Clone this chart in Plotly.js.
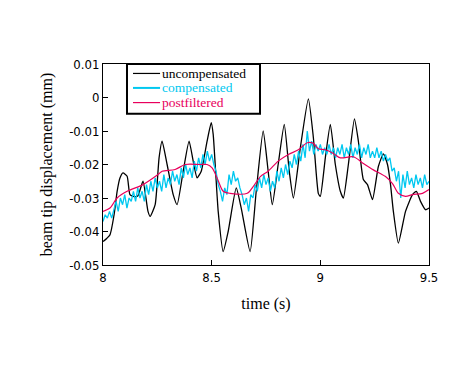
<!DOCTYPE html>
<html>
<head>
<meta charset="utf-8">
<script src="https://cdn.plot.ly/plotly-3.0.1.min.js"></script>
<style>html,body{margin:0;padding:0;background:#fff;}#chart{width:474px;height:372px;}</style>
</head>
<body>
<div id="chart"></div>
<script>
// uncompensated (black)
const uncompT = [8.000,8.018,8.032,8.051,8.065,8.078,8.092,8.111,8.124,8.143,8.161,8.184,8.207,8.217,8.240,8.258,8.272,8.295,8.323,8.341,8.369,8.396,8.415,8.433,8.452,8.479,8.498,8.507,8.530,8.553,8.576,8.613,8.636,8.677,8.705,8.737,8.760,8.779,8.806,8.834,8.857,8.876,8.908,8.945,8.968,8.991,9.000,9.023,9.046,9.069,9.092,9.106,9.129,9.157,9.175,9.198,9.217,9.240,9.267,9.290,9.309,9.323,9.336,9.359,9.392,9.424,9.442,9.461,9.484,9.500];
const uncompV = [-0.043,-0.042,-0.041,-0.035,-0.028,-0.024,-0.0225,-0.0235,-0.029,-0.0296,-0.0293,-0.025,-0.034,-0.0355,-0.032,-0.018,-0.013,-0.020,-0.029,-0.032,-0.022,-0.013,-0.019,-0.024,-0.022,-0.013,-0.0075,-0.011,-0.034,-0.046,-0.040,-0.027,-0.033,-0.046,-0.028,-0.010,-0.022,-0.032,-0.020,-0.008,-0.022,-0.030,-0.015,-0.0004,-0.012,-0.0287,-0.0295,-0.018,-0.008,-0.020,-0.028,-0.030,-0.020,-0.0064,-0.013,-0.0245,-0.026,-0.0305,-0.0206,-0.0168,-0.020,-0.026,-0.034,-0.0435,-0.034,-0.029,-0.028,-0.031,-0.0335,-0.033];

// compensated (cyan)
const compT = [8.00,8.01,8.02,8.03,8.04,8.05,8.06,8.07,8.08,8.09,8.10,8.11,8.12,8.13,8.14,8.15,8.16,8.17,8.18,8.19,8.20,8.21,8.22,8.23,8.24,8.25,8.26,8.27,8.28,8.29,8.30,8.31,8.32,8.33,8.34,8.35,8.36,8.37,8.38,8.39,8.40,8.41,8.42,8.43,8.44,8.45,8.46,8.47,8.48,8.49,8.50,8.51,8.52,8.53,8.54,8.55,8.56,8.57,8.58,8.59,8.60,8.61,8.62,8.63,8.64,8.65,8.66,8.67,8.68,8.69,8.70,8.71,8.72,8.73,8.74,8.75,8.76,8.77,8.78,8.79,8.80,8.81,8.82,8.83,8.84,8.85,8.86,8.87,8.88,8.89,8.90,8.91,8.92,8.93,8.94,8.95,8.96,8.97,8.98,8.99,9.00,9.01,9.02,9.03,9.04,9.05,9.06,9.07,9.08,9.09,9.10,9.11,9.12,9.13,9.14,9.15,9.16,9.17,9.18,9.19,9.20,9.21,9.22,9.23,9.24,9.25,9.26,9.27,9.28,9.29,9.30,9.31,9.32,9.33,9.34,9.35,9.36,9.37,9.38,9.39,9.40,9.41,9.42,9.43,9.44,9.45,9.46,9.47,9.48,9.49,9.50];
const compV = [-0.037,-0.035,-0.036,-0.034,-0.036,-0.033,-0.031,-0.034,-0.030,-0.032,-0.029,-0.033,-0.030,-0.031,-0.028,-0.031,-0.027,-0.030,-0.028,-0.031,-0.026,-0.029,-0.025,-0.028,-0.024,-0.027,-0.025,-0.028,-0.023,-0.027,-0.024,-0.026,-0.022,-0.025,-0.023,-0.026,-0.021,-0.024,-0.020,-0.023,-0.021,-0.024,-0.019,-0.022,-0.018,-0.021,-0.017,-0.020,-0.016,-0.019,-0.017,-0.020,-0.022,-0.026,-0.028,-0.031,-0.027,-0.029,-0.023,-0.026,-0.022,-0.025,-0.024,-0.027,-0.029,-0.032,-0.030,-0.034,-0.029,-0.030,-0.026,-0.028,-0.024,-0.027,-0.023,-0.026,-0.024,-0.028,-0.025,-0.027,-0.022,-0.025,-0.021,-0.024,-0.020,-0.023,-0.019,-0.021,-0.017,-0.020,-0.016,-0.019,-0.014,-0.018,-0.010,-0.016,-0.013,-0.017,-0.014,-0.016,-0.014,-0.017,-0.015,-0.017,-0.014,-0.017,-0.015,-0.018,-0.015,-0.017,-0.014,-0.018,-0.015,-0.017,-0.014,-0.018,-0.015,-0.017,-0.014,-0.018,-0.015,-0.017,-0.014,-0.018,-0.016,-0.018,-0.015,-0.018,-0.016,-0.019,-0.017,-0.019,-0.018,-0.022,-0.021,-0.025,-0.022,-0.030,-0.023,-0.027,-0.022,-0.026,-0.024,-0.027,-0.023,-0.026,-0.024,-0.027,-0.023,-0.026,-0.025];

// postfiltered (red)
const postT = [8.000,8.032,8.065,8.111,8.184,8.253,8.272,8.332,8.378,8.447,8.479,8.502,8.525,8.553,8.585,8.664,8.691,8.724,8.760,8.806,8.853,8.899,8.940,8.968,8.991,9.023,9.060,9.092,9.152,9.198,9.244,9.276,9.300,9.332,9.359,9.392,9.424,9.470,9.500];
const postV = [-0.034,-0.033,-0.030,-0.028,-0.026,-0.023,-0.022,-0.0215,-0.020,-0.020,-0.020,-0.021,-0.024,-0.028,-0.0286,-0.0286,-0.0266,-0.0236,-0.022,-0.019,-0.017,-0.0156,-0.0135,-0.0137,-0.0153,-0.0156,-0.0167,-0.018,-0.0177,-0.0197,-0.0216,-0.0227,-0.0236,-0.0257,-0.0286,-0.0295,-0.029,-0.0286,-0.0275];

const seriesNames = ['uncompensated','compensated','postfiltered'];
const xTickVals = [8, 8.5, 9, 9.5];
const xTickText = ['8','8.5','9','9.5'];
const yTickVals = [0.01, 0, -0.01, -0.02, -0.03, -0.04, -0.05];
const yTickText = ['0.01','0','-0.01','-0.02','-0.03','-0.04','-0.05'];

const colors = ['#000000', '#00c8f0', '#e8005c'];
const serif = '"Liberation Serif", "DejaVu Serif", serif';
const tickFont = '"DejaVu Sans Condensed", "Liberation Sans Narrow", "Liberation Sans", sans-serif';

const traces = [
  {x: uncompT, y: uncompV, name: seriesNames[0], mode: 'lines', line: {color: colors[0], width: 1.3, shape: 'spline', smoothing: 0.5}},
  {x: compT, y: compV, name: seriesNames[1], mode: 'lines', line: {color: colors[1], width: 1.3}},
  {x: postT, y: postV, name: seriesNames[2], mode: 'lines', line: {color: colors[2], width: 1.2, shape: 'spline', smoothing: 0.8}}
];

// hand-drawn compact legend (paper coordinates)
const legX0 = 0.0736, legX1 = 0.4816, legY0 = 0.752, legY1 = 1.0;
const legLineX0 = 0.092, legLineX1 = 0.175, legTextX = 0.178;
const legRowY = [0.953, 0.881, 0.808];
const shapes = [{type: 'rect', xref: 'paper', yref: 'paper', x0: legX0, x1: legX1, y0: legY0, y1: legY1,
  line: {color: '#000', width: 2}, fillcolor: '#fff', layer: 'above'}];
const annotations = [];
seriesNames.forEach((n, i) => {
  shapes.push({type: 'line', xref: 'paper', yref: 'paper', x0: legLineX0, x1: legLineX1, y0: legRowY[i], y1: legRowY[i],
    line: {color: colors[i], width: i === 1 ? 2 : 1.2}, layer: 'above'});
  annotations.push({xref: 'paper', yref: 'paper', x: legTextX, y: legRowY[i], xanchor: 'left', yanchor: 'middle',
    text: n, showarrow: false, borderpad: 0, font: {family: serif, size: 13.5, color: colors[i]}});
});

const layout = {
  width: 474, height: 372,
  margin: {l: 103, r: 45, t: 64, b: 107},
  paper_bgcolor: '#fff', plot_bgcolor: '#fff',
  showlegend: false,
  shapes: shapes,
  annotations: annotations,
  xaxis: {
    range: [8, 9.5], tickvals: xTickVals, ticktext: xTickText,
    ticks: 'inside', ticklen: 5, tickcolor: '#000', tickwidth: 1,
    showline: true, linecolor: '#000', linewidth: 1, mirror: true,
    showgrid: false, zeroline: false,
    tickfont: {family: tickFont, size: 13, color: '#000'},
    title: {text: 'time (s)', font: {family: serif, size: 16, color: '#000'}, standoff: 14}
  },
  yaxis: {
    range: [-0.05, 0.01], tickvals: yTickVals, ticktext: yTickText,
    ticks: 'inside', ticklen: 5, tickcolor: '#000', tickwidth: 1,
    showline: true, linecolor: '#000', linewidth: 1, mirror: true,
    showgrid: false, zeroline: false,
    tickfont: {family: tickFont, size: 13, color: '#000'},
    title: {text: 'beam tip displacement (mm)', font: {family: serif, size: 16, color: '#000'}, standoff: 12}
  }
};

Plotly.newPlot('chart', traces, layout, {displayModeBar: false, staticPlot: true});
</script>
</body>
</html>
